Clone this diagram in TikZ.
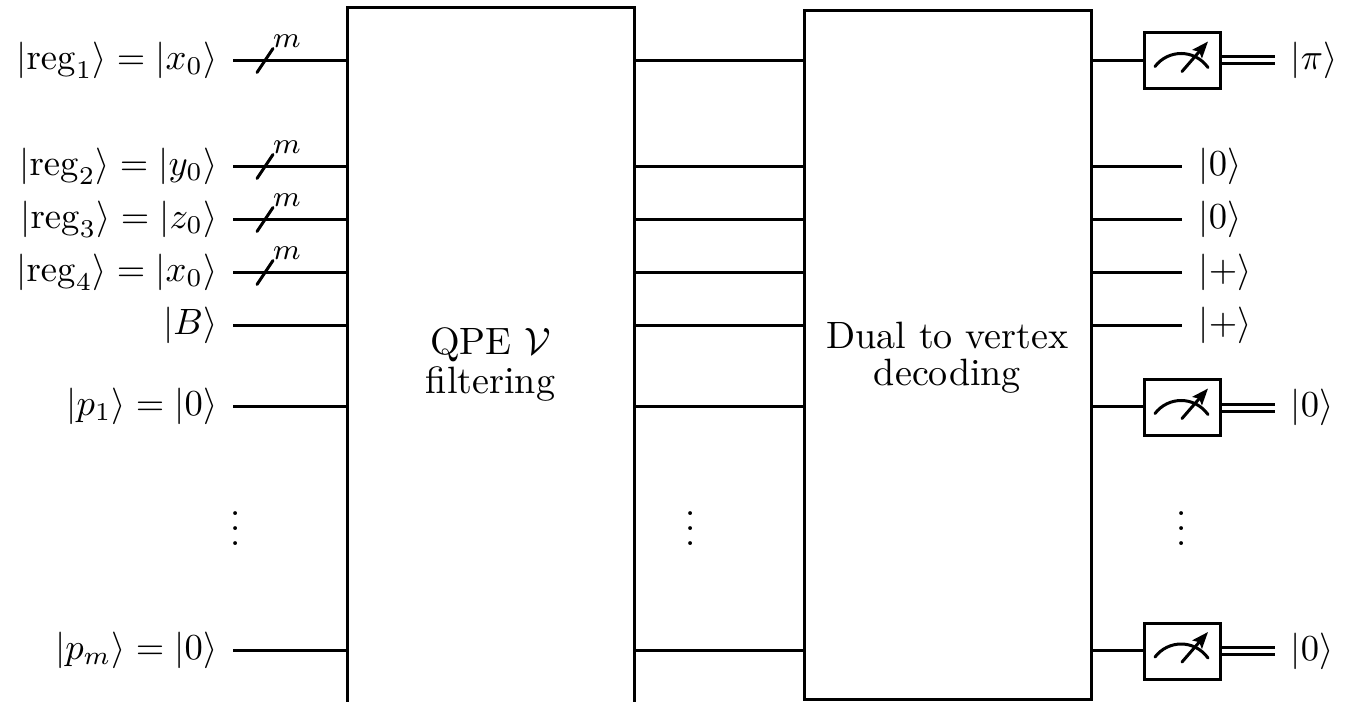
\documentclass[tikz,border=0pt]{standalone}
\usetikzlibrary{arrows.meta,calc}
\newdimen\ux \ux=0.33333pt
\tikzset{
  wire/.style={line width=1pt},
  boxed/.style={draw,line width=1pt,inner sep=0pt},
  gatebox/.style={boxed,minimum width=287\ux},
  gatetext/.style={inner sep=0pt,align=center,scale=1.27},
  meterbox/.style={boxed,minimum width=76\ux,minimum height=56\ux},
  ketl/.style={anchor=base east,inner sep=0pt,scale=1.22},
  ketr/.style={anchor=base west,inner sep=0pt,scale=1.22},
  lab/.style={inner sep=0pt,scale=1.22},
}
\newcommand{\metersym}[1]{%
  \draw[line width=1pt,line cap=round] ($(#1)+(-27,6)$) .. controls ($(#1)+(-14,-11)$) and ($(#1)+(12,-12)$) .. ($(#1)+(26,7)$);
  \draw[line width=1pt,-{Stealth[length=5.5pt,width=4.2pt,inset=1pt]},line cap=round] ($(#1)+(0,11)$) -- ($(#1)+(26,-19)$);
}
\newcommand{\slashmark}[1]{%
  \draw[line width=1pt,line cap=round] ($(#1)+(24,12)$) -- ($(#1)+(40,-12)$);
  \node[lab,font=\footnotesize] at ($(#1)+(54,-19)$) {$m$};
}
\begin{document}
\begin{tikzpicture}[x=0.33333pt,y=-0.33333pt]
\useasboundingbox (0,-0.5) rectangle (1350,701.5);
% gates
\node[gatebox,minimum height=710\ux] (g1) at (490.5,362) {};
\node[gatetext] (t1) at ($(g1.center)+(0,2)$) {QPE $\mathcal{V}$\\[-2pt]filtering};
\node[gatebox,minimum height=689\ux] (g2) at (947.5,354.5) {};
\node[gatetext] (t2) at ($(g2.center)+(0,3)$) {Dual to vertex\\[-2.3pt]decoding};
% input ends
\coordinate (a1) at (233,60);
\coordinate (a2) at (233,166);
\coordinate (a3) at (233,219);
\coordinate (a4) at (233,272);
\coordinate (a5) at (233,325);
\coordinate (a6) at (233,406);
\coordinate (a7) at (233,650);
% labels left
\node[ketl] (l1) at (218,69) {$|\mathrm{reg}_1\rangle=|x_0\rangle$};
\node[ketl] (l2) at (218,175) {$|\mathrm{reg}_2\rangle=|y_0\rangle$};
\node[ketl] (l3) at (218,228) {$|\mathrm{reg}_3\rangle=|z_0\rangle$};
\node[ketl] (l4) at (218,281) {$|\mathrm{reg}_4\rangle=|x_0\rangle$};
\node[ketl] (l5) at (218,334) {$|B\rangle$};
\node[ketl] (l6) at (218,415) {$|p_1\rangle=|0\rangle$};
\node[ketl] (l7) at (218,659) {$|p_m\rangle=|0\rangle$};
% wires
\foreach \i in {1,...,7} {
  \draw[wire] (a\i) -- (g1.west |- a\i);
  \draw[wire] (g1.east |- a\i) -- (g2.west |- a\i);
}
\slashmark{a1}\slashmark{a2}\slashmark{a3}\slashmark{a4}
% meters
\node[meterbox] (m1) at (1182,60) {};
\node[meterbox] (m6) at (1182,407) {};
\node[meterbox] (m7) at (1182,650.5) {};
\foreach \i in {1,6,7} {
  \draw[wire] (g2.east |- a\i) -- (m\i.west |- a\i);
  \metersym{m\i}
  \coordinate (d\i) at ($(m\i.east)+(53,0)$);
  \draw[wire] ($(m\i.east)+(0,-3.5)$) -- ($(d\i)+(0,-3.5)$);
  \draw[wire] ($(m\i.east)+(0,3.5)$) -- ($(d\i)+(0,3.5)$);
}
\node[ketr] (o1) at (1290,69) {$|\pi\rangle$};
\node[ketr] (o6) at (1290,416) {$|0\rangle$};
\node[ketr] (o7) at (1290,660) {$|0\rangle$};
% plain outputs
\foreach \i/\t in {2/0,3/0,4/+,5/+} {
  \coordinate (e\i) at (a\i -| m1.center);
  \draw[wire] (g2.east |- a\i) -- (e\i);
  \node[ketr] (o\i) at ($(e\i)+(16,9)$) {$|\t\rangle$};
}
% dots
\node[lab] (v1) at (236,517) {$\vdots$};
\node[lab] (v2) at (691,517) {$\vdots$};
\node[lab] (v3) at (1182,517) {$\vdots$};
\end{tikzpicture}
\end{document}
